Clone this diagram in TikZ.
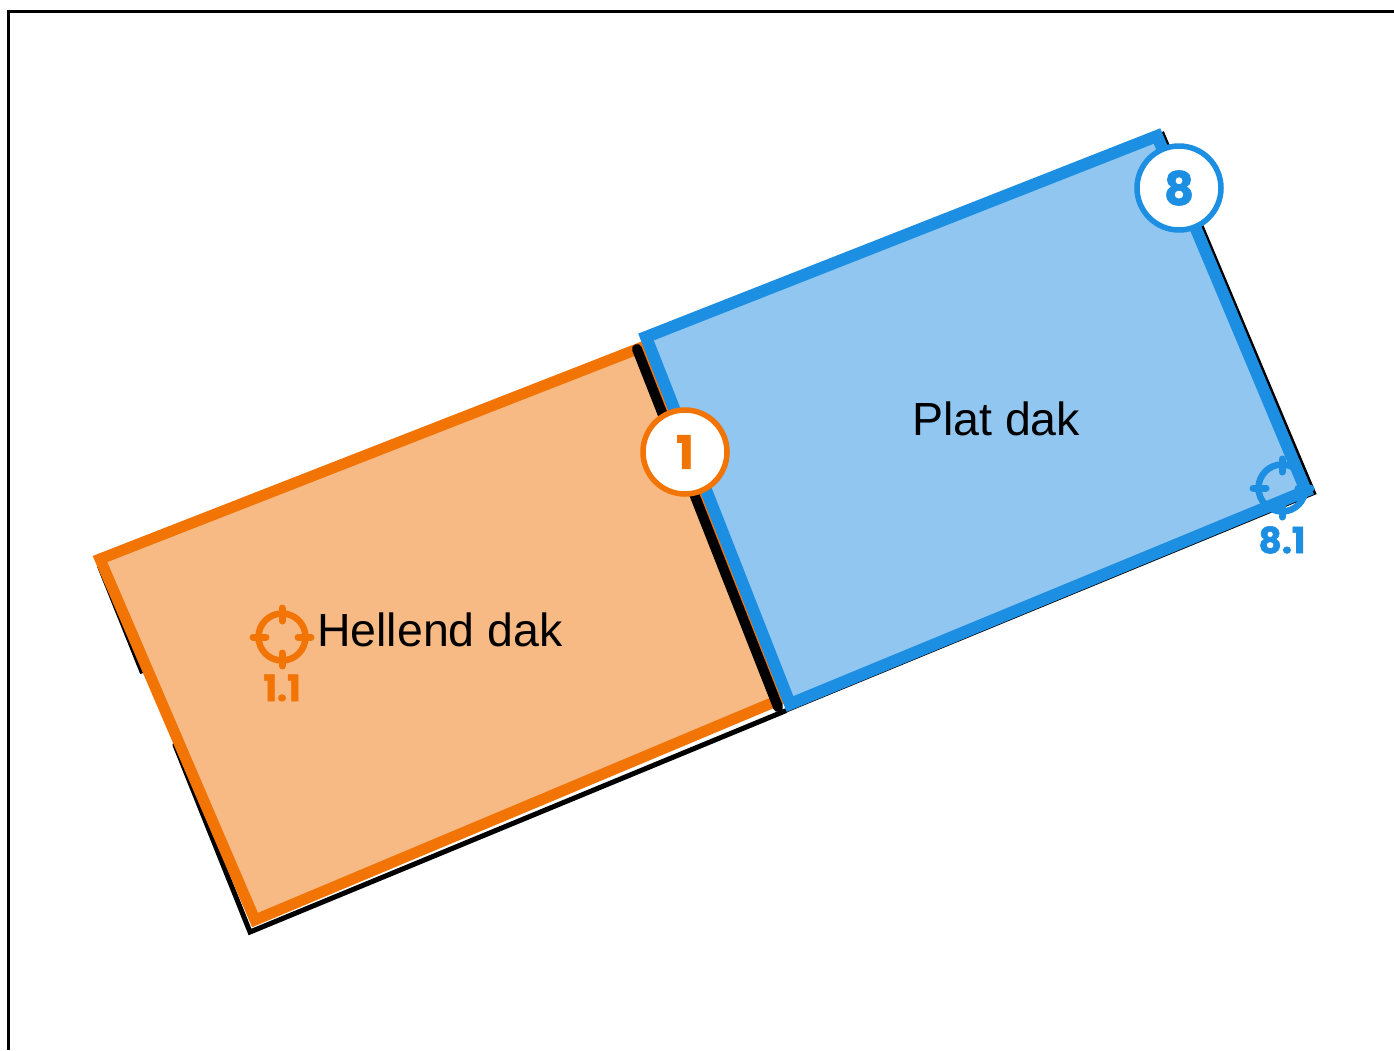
\documentclass[tikz,border=0pt]{standalone}
\usepackage{fontspec}
\setmainfont{Liberation Sans}
\newfontfamily\numfont[BoldFeatures={FakeBold=1.6}]{Poppins}
\definecolor{hellend}{HTML}{F27405}
\definecolor{hellendfill}{HTML}{F7BA85}
\definecolor{plat}{HTML}{1C8FE3}
\definecolor{platfill}{HTML}{90C6EF}
\tikzset{
    roof/.style={line width=#1, miter limit=10},
    badge/.style={circle, draw=#1, line width=5.5pt, fill=white, text=#1, minimum size=84pt, inner sep=0pt, font=\numfont\bfseries\fontsize{46}{46}\selectfont},
    pointcode/.style={text=#1, inner sep=0pt, font=\numfont\bfseries\fontsize{36}{36}\selectfont},
    roofname/.style={inner sep=0pt, text=black, font=\fontsize{46.5}{46.5}\selectfont}
}
\newcommand{\crosshair}[2]{
    \draw [#2, line width=6.5pt] (#1) circle (23.5);
    \foreach \a in {0,90,180,270} {
        \draw [#2, line width=7pt, line cap=round] (#1) ++(\a:16) -- ++(\a:13);
    }
}
\begin{document}
\begin{tikzpicture}[x=1pt,y=-1pt]
        \useasboundingbox (0,0) rectangle (1394,1050);
        \coordinate (f0) at (1394,11);
        \coordinate (f1) at (8.5,11);
        \coordinate (f2) at (8.5,1050);
        \draw [line width=3pt] (f0) -- (f1) -- (f2);
        % building underneath
        \draw [line width=4pt] (1162,132) -- (1314,493) -- (785,711);
        \draw [line width=5pt, line cap=round] (785,711) -- (250,932) -- (175,745);
        \draw [line width=6pt] (100,566) -- (143,673);
        \draw [line width=2pt] (100,557) -- (638,345);
        % roofs
        \coordinate (h1) at (100,559);
        \coordinate (h2) at (640,348);
        \coordinate (h3) at (779,700);
        \coordinate (h4) at (255,920);
        \coordinate (p1) at (646,337);
        \coordinate (p2) at (1157,136);
        \coordinate (p3) at (1306,491);
        \coordinate (p4) at (790,704);
        \draw [roof=11pt, draw=hellend, fill=hellendfill] (h1) -- (h2) -- (h3) -- (h4) -- cycle;
        \draw [line width=10pt, line cap=round] (637,349) -- (778,707);
        \draw [roof=12pt, draw=plat, fill=platfill] (p1) -- (p2) -- (p3) -- (p4) -- cycle;
        \crosshair{282,637}{hellend}
        \crosshair{1282,488}{plat}
        \node [roofname] (hellendname) at (440,630) {Hellend dak};
        \node [roofname] (platname) at (996,419) {Plat dak};
        \node [pointcode=hellend] (code11) at (282,688) {1.1};
        \node [pointcode=plat] (code81) at (1282,540) {8.1};
        \node [badge=hellend] (badge1) at (685,452) {1};
        \node [badge=plat] (badge8) at (1179,188) {8};
    \end{tikzpicture}
\end{document}
